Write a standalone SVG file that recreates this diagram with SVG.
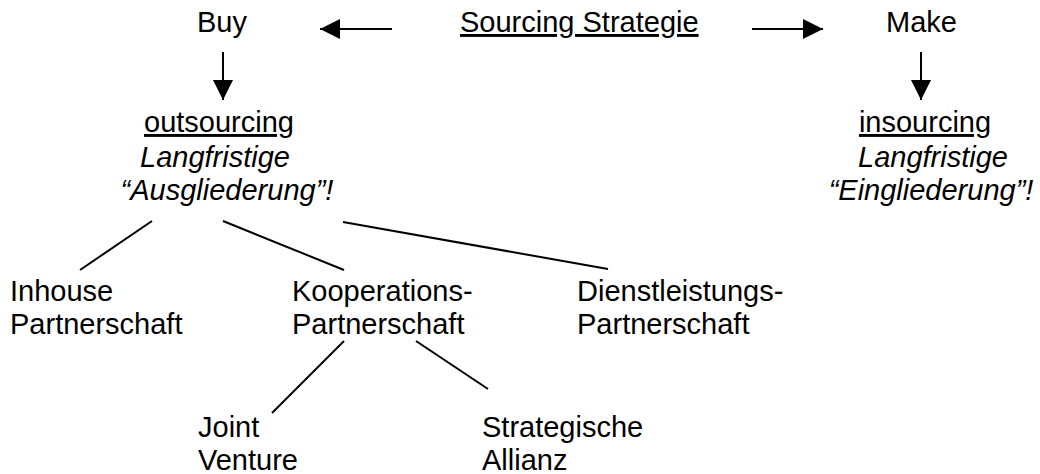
<svg xmlns="http://www.w3.org/2000/svg" width="1040" height="474" viewBox="0 0 1040 474">
  <defs>
    <marker id="arrow" viewBox="0 0 20 20" refX="20" refY="10" markerWidth="20" markerHeight="20" markerUnits="userSpaceOnUse" orient="auto">
      <path d="M0,0 L20,10 L0,20 Z" fill="#000"/>
    </marker>
  </defs>
  <style>
    text { font-family: "Liberation Sans", Arial, sans-serif; font-size: 29px; fill: #000; }
    .u { text-decoration: underline; }
    .i { font-style: italic; }
    .c { text-anchor: middle; }
    .edge { stroke: #000; stroke-width: 2; fill: none; }
    .arr { stroke: #000; stroke-width: 2; fill: none; marker-end: url(#arrow); }
  </style>
  <rect width="1040" height="474" fill="#fff"/>

  <!-- connectors -->
  <g id="connectors">
    <line class="arr" x1="392" y1="29" x2="320" y2="29"/>
    <line class="arr" x1="752" y1="29" x2="823" y2="29"/>
    <line class="arr" x1="223" y1="52" x2="223" y2="100"/>
    <line class="arr" x1="921" y1="52" x2="921" y2="100"/>
    <line class="edge" x1="152" y1="221" x2="80" y2="270"/>
    <line class="edge" x1="223" y1="221" x2="344" y2="270"/>
    <line class="edge" x1="343" y1="222" x2="608" y2="269"/>
    <line class="edge" x1="344" y1="341" x2="272" y2="413"/>
    <line class="edge" x1="416" y1="341" x2="488" y2="389"/>
  </g>

  <!-- top row -->
  <g id="buy"><text x="197" y="32">Buy</text></g>
  <g id="strategy"><text class="u" x="460" y="32">Sourcing Strategie</text></g>
  <g id="make"><text x="886" y="32">Make</text></g>

  <!-- outsourcing / insourcing -->
  <g id="outsourcing">
    <text class="u c" x="219" y="132">outsourcing</text>
    <text class="i c" x="215" y="167">Langfristige</text>
    <text class="i c" x="227" y="200">“Ausgliederung”!</text>
  </g>
  <g id="insourcing">
    <text class="u c" x="925" y="132">insourcing</text>
    <text class="i c" x="933" y="167">Langfristige</text>
    <text class="i c" x="931" y="200">“Eingliederung”!</text>
  </g>

  <!-- partnership types -->
  <g id="inhouse">
    <text x="10" y="301">Inhouse</text>
    <text x="10" y="334">Partnerschaft</text>
  </g>
  <g id="kooperation">
    <text x="292" y="301">Kooperations-</text>
    <text x="292" y="334">Partnerschaft</text>
  </g>
  <g id="dienstleistung">
    <text x="577" y="301">Dienstleistungs-</text>
    <text x="577" y="334">Partnerschaft</text>
  </g>

  <!-- cooperation forms -->
  <g id="joint-venture">
    <text x="198" y="437">Joint</text>
    <text x="198" y="470">Venture</text>
  </g>
  <g id="allianz">
    <text x="482" y="437">Strategische</text>
    <text x="482" y="470">Allianz</text>
  </g>
</svg>
